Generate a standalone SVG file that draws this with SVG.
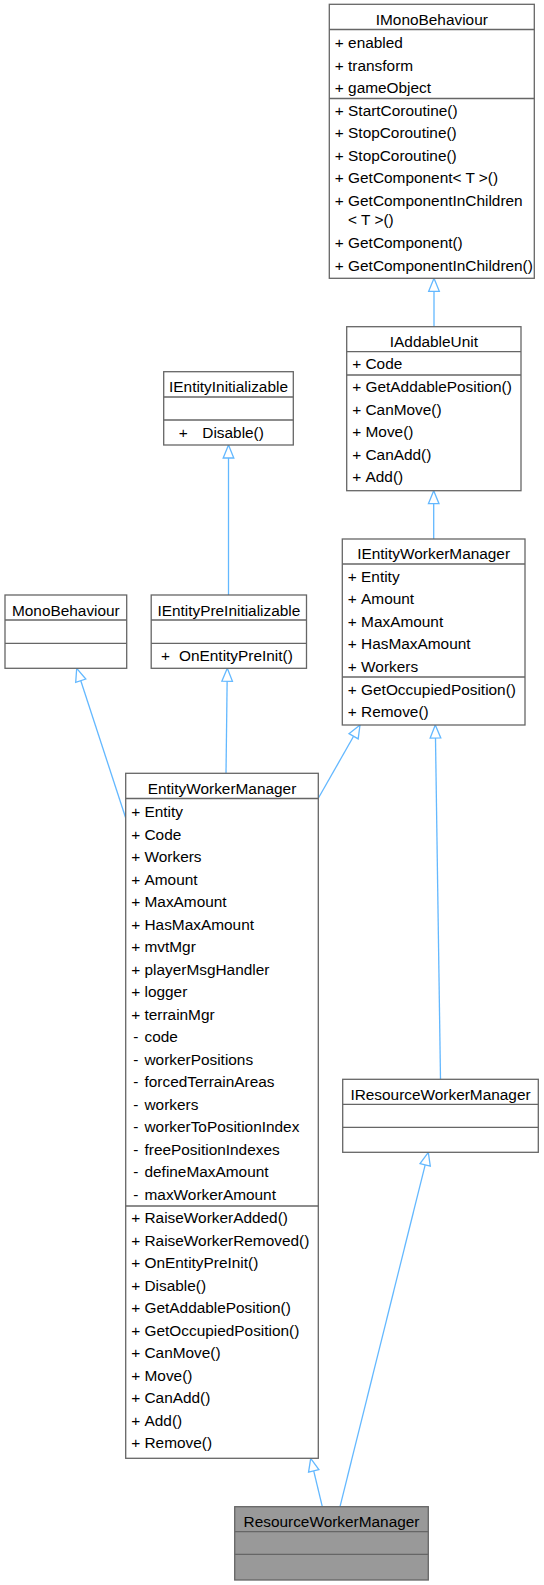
<svg xmlns="http://www.w3.org/2000/svg" width="544" height="1585" viewBox="0 0 544 1585">
<style>
.box{fill:#fff;stroke:#666;stroke-width:1.3}
.gray{fill:#999}
.sep{stroke:#666;stroke-width:1.3}
text{font-family:"Liberation Sans",Arial,sans-serif;font-size:15.4px;fill:#000}
.c{text-anchor:middle}
.edge{stroke:#63B8FF;stroke-width:1.3;fill:none;marker-end:url(#arr)}
</style>
<defs>
<marker id="arr" markerUnits="userSpaceOnUse" markerWidth="18" markerHeight="16" refX="15" refY="8" orient="auto" viewBox="0 0 18 16" overflow="visible">
<path d="M2,2.7 L15,8 L2,13.3 Z" fill="#fff" stroke="#63B8FF" stroke-width="1.3"/>
</marker>
</defs>
<rect width="544" height="1585" fill="#fff"/>

<g id="edges">
<path class="edge" d="M434,326.7 L434,278.3"/>
<path class="edge" d="M433.7,539 L433.7,490.7"/>
<path class="edge" d="M228.5,595 L228.5,445"/>
<path class="edge" d="M125.7,818 L76.7,668.3"/>
<path class="edge" d="M226,773.3 L227.3,668.3"/>
<path class="edge" d="M318.3,798.3 L360,725"/>
<path class="edge" d="M440.5,1079.3 L435.3,725"/>
<path class="edge" d="M322.3,1506.7 L310.7,1458.3"/>
<path class="edge" d="M340,1506.7 L428.3,1152.3"/>
</g>

<g id="IMonoBehaviour">
<rect class="box" x="329.3" y="4.3" width="205" height="274"/>
<line class="sep" x1="329.3" y1="29.5" x2="534.3" y2="29.5"/>
<line class="sep" x1="329.3" y1="98.5" x2="534.3" y2="98.5"/>
<text class="c" x="431.8" y="24.5">IMonoBehaviour</text>
<text x="339.3" y="48" class="c">+</text><text x="348.1" y="48">enabled</text>
<text x="339.3" y="70.5" class="c">+</text><text x="348.1" y="70.5">transform</text>
<text x="339.3" y="93" class="c">+</text><text x="348.1" y="93">gameObject</text>
<text x="339.3" y="115.8" class="c">+</text><text x="348.1" y="115.8">StartCoroutine()</text>
<text x="339.3" y="138.3" class="c">+</text><text x="348.1" y="138.3">StopCoroutine()</text>
<text x="339.3" y="160.8" class="c">+</text><text x="348.1" y="160.8">StopCoroutine()</text>
<text x="339.3" y="183.3" class="c">+</text><text x="348.1" y="183.3">GetComponent&lt; T &gt;()</text>
<text x="339.3" y="205.8" class="c">+</text><text x="348.1" y="205.8">GetComponentInChildren</text>
<text x="348.1" y="224.5">&lt; T &gt;()</text>
<text x="339.3" y="248" class="c">+</text><text x="348.1" y="248">GetComponent()</text>
<text x="339.3" y="270.5" class="c">+</text><text x="348.1" y="270.5">GetComponentInChildren()</text>
</g>

<g id="IAddableUnit">
<rect class="box" x="346.7" y="326.7" width="174.3" height="164"/>
<line class="sep" x1="346.7" y1="351.7" x2="521" y2="351.7"/>
<line class="sep" x1="346.7" y1="375" x2="521" y2="375"/>
<text class="c" x="433.9" y="346.7">IAddableUnit</text>
<text x="356.7" y="369.3" class="c">+</text><text x="365.5" y="369.3">Code</text>
<text x="356.7" y="392.3" class="c">+</text><text x="365.5" y="392.3">GetAddablePosition()</text>
<text x="356.7" y="414.8" class="c">+</text><text x="365.5" y="414.8">CanMove()</text>
<text x="356.7" y="437.3" class="c">+</text><text x="365.5" y="437.3">Move()</text>
<text x="356.7" y="459.8" class="c">+</text><text x="365.5" y="459.8">CanAdd()</text>
<text x="356.7" y="482.3" class="c">+</text><text x="365.5" y="482.3">Add()</text>
</g>

<g id="IEntityInitializable">
<rect class="box" x="163.7" y="371.7" width="129.6" height="73.3"/>
<line class="sep" x1="163.7" y1="397" x2="293.3" y2="397"/>
<line class="sep" x1="163.7" y1="420" x2="293.3" y2="420"/>
<text class="c" x="228.5" y="392.3">IEntityInitializable</text>
<text x="183.3" y="437.5" class="c">+</text><text x="202.3" y="437.5">Disable()</text>
</g>

<g id="IEntityWorkerManager">
<rect class="box" x="342.3" y="539" width="182.7" height="186"/>
<line class="sep" x1="342.3" y1="564" x2="525" y2="564"/>
<line class="sep" x1="342.3" y1="677" x2="525" y2="677"/>
<text class="c" x="433.65" y="559">IEntityWorkerManager</text>
<text x="352.3" y="581.7" class="c">+</text><text x="361.1" y="581.7">Entity</text>
<text x="352.3" y="604.2" class="c">+</text><text x="361.1" y="604.2">Amount</text>
<text x="352.3" y="626.7" class="c">+</text><text x="361.1" y="626.7">MaxAmount</text>
<text x="352.3" y="649.2" class="c">+</text><text x="361.1" y="649.2">HasMaxAmount</text>
<text x="352.3" y="671.7" class="c">+</text><text x="361.1" y="671.7">Workers</text>
<text x="352.3" y="694.7" class="c">+</text><text x="361.1" y="694.7">GetOccupiedPosition()</text>
<text x="352.3" y="717.2" class="c">+</text><text x="361.1" y="717.2">Remove()</text>
</g>

<g id="MonoBehaviour">
<rect class="box" x="5" y="595" width="121.7" height="73.3"/>
<line class="sep" x1="5" y1="620" x2="126.7" y2="620"/>
<line class="sep" x1="5" y1="643.3" x2="126.7" y2="643.3"/>
<text class="c" x="65.85" y="615.5">MonoBehaviour</text>
</g>

<g id="IEntityPreInitializable">
<rect class="box" x="151.2" y="595" width="155.3" height="73.3"/>
<line class="sep" x1="151.2" y1="620" x2="306.5" y2="620"/>
<line class="sep" x1="151.2" y1="643.3" x2="306.5" y2="643.3"/>
<text class="c" x="228.85" y="615.5">IEntityPreInitializable</text>
<text x="165.5" y="661" class="c">+</text><text x="179" y="661">OnEntityPreInit()</text>
</g>

<g id="EntityWorkerManager">
<rect class="box" x="125.7" y="773.3" width="192.6" height="685"/>
<line class="sep" x1="125.7" y1="798.5" x2="318.3" y2="798.5"/>
<line class="sep" x1="125.7" y1="1206" x2="318.3" y2="1206"/>
<text class="c" x="222" y="793.5">EntityWorkerManager</text>
<text x="135.7" y="817.3" class="c">+</text><text x="144.5" y="817.3">Entity</text>
<text x="135.7" y="839.8" class="c">+</text><text x="144.5" y="839.8">Code</text>
<text x="135.7" y="862.3" class="c">+</text><text x="144.5" y="862.3">Workers</text>
<text x="135.7" y="884.8" class="c">+</text><text x="144.5" y="884.8">Amount</text>
<text x="135.7" y="907.3" class="c">+</text><text x="144.5" y="907.3">MaxAmount</text>
<text x="135.7" y="929.8" class="c">+</text><text x="144.5" y="929.8">HasMaxAmount</text>
<text x="135.7" y="952.3" class="c">+</text><text x="144.5" y="952.3">mvtMgr</text>
<text x="135.7" y="974.8" class="c">+</text><text x="144.5" y="974.8">playerMsgHandler</text>
<text x="135.7" y="997.3" class="c">+</text><text x="144.5" y="997.3">logger</text>
<text x="135.7" y="1019.8" class="c">+</text><text x="144.5" y="1019.8">terrainMgr</text>
<text x="135.7" y="1042.3" class="c">-</text><text x="144.5" y="1042.3">code</text>
<text x="135.7" y="1064.8" class="c">-</text><text x="144.5" y="1064.8">workerPositions</text>
<text x="135.7" y="1087.3" class="c">-</text><text x="144.5" y="1087.3">forcedTerrainAreas</text>
<text x="135.7" y="1109.8" class="c">-</text><text x="144.5" y="1109.8">workers</text>
<text x="135.7" y="1132.3" class="c">-</text><text x="144.5" y="1132.3">workerToPositionIndex</text>
<text x="135.7" y="1154.8" class="c">-</text><text x="144.5" y="1154.8">freePositionIndexes</text>
<text x="135.7" y="1177.3" class="c">-</text><text x="144.5" y="1177.3">defineMaxAmount</text>
<text x="135.7" y="1199.8" class="c">-</text><text x="144.5" y="1199.8">maxWorkerAmount</text>
<text x="135.7" y="1223.3" class="c">+</text><text x="144.5" y="1223.3">RaiseWorkerAdded()</text>
<text x="135.7" y="1245.8" class="c">+</text><text x="144.5" y="1245.8">RaiseWorkerRemoved()</text>
<text x="135.7" y="1268.3" class="c">+</text><text x="144.5" y="1268.3">OnEntityPreInit()</text>
<text x="135.7" y="1290.8" class="c">+</text><text x="144.5" y="1290.8">Disable()</text>
<text x="135.7" y="1313.3" class="c">+</text><text x="144.5" y="1313.3">GetAddablePosition()</text>
<text x="135.7" y="1335.8" class="c">+</text><text x="144.5" y="1335.8">GetOccupiedPosition()</text>
<text x="135.7" y="1358.3" class="c">+</text><text x="144.5" y="1358.3">CanMove()</text>
<text x="135.7" y="1380.8" class="c">+</text><text x="144.5" y="1380.8">Move()</text>
<text x="135.7" y="1403.3" class="c">+</text><text x="144.5" y="1403.3">CanAdd()</text>
<text x="135.7" y="1425.8" class="c">+</text><text x="144.5" y="1425.8">Add()</text>
<text x="135.7" y="1448.3" class="c">+</text><text x="144.5" y="1448.3">Remove()</text>
</g>

<g id="IResourceWorkerManager">
<rect class="box" x="342.7" y="1079.3" width="195.6" height="73"/>
<line class="sep" x1="342.7" y1="1104.3" x2="538.3" y2="1104.3"/>
<line class="sep" x1="342.7" y1="1127.3" x2="538.3" y2="1127.3"/>
<text class="c" x="440.5" y="1099.5">IResourceWorkerManager</text>
</g>

<g id="ResourceWorkerManager">
<rect class="box gray" x="234.7" y="1506.7" width="193.6" height="73.3"/>
<line class="sep" x1="234.7" y1="1531.7" x2="428.3" y2="1531.7"/>
<line class="sep" x1="234.7" y1="1554.3" x2="428.3" y2="1554.3"/>
<text class="c" x="331.5" y="1526.7">ResourceWorkerManager</text>
</g>
</svg>
